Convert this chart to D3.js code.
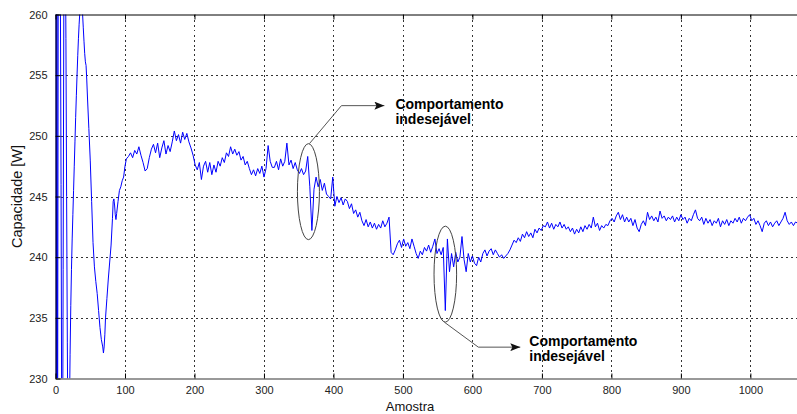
<!DOCTYPE html>
<html>
<head>
<meta charset="utf-8">
<script src="https://cdn.jsdelivr.net/npm/d3@7/dist/d3.min.js"></script>
<style>
  html, body { margin: 0; padding: 0; background: #fff; }
  svg { display: block; }
</style>
</head>
<body>
<svg id="chart" width="797" height="414"></svg>
<script>
// Startup transient: [amostra, capacidade]
const inicio = [
  [0,270],[1,218],[2,272],[3,222],[4,266],[5,274],[6,271],[7,262],[8,246],[9,224],
  [10,217],[11,239],[12,261],[13,274],[14,268],[15,258],[16,245],[17,233],[18,224],
  [19,222],[20,227],[21,232],[22,236],[23,239],[24,241.5],[25,243.5],[26,245.5],
  [27,247.5],[28,249.5],[29,251.5],[30,253.3],[31,255],[32,256.6],[33,258],[34,259.2],
  [35,260.2],[36,261],[37,261.4],[38,261.5],[39,260.0],[40,258.9],[41,257.8],[42,256.8],
  [43,256.1],[44,255.8],[45,254.6],[46,253.2],[48,250.6],[50,248],[52,244.6],[54,241.2],
  [56,239.2],[58,238],[60,237],[62,235.6],[64,234.2],[66,233.2],[68,232.6],[69,232.1],
  [70,232.6],[71,233.6],[72,235],[74,236.6],[76,238.2],[78,239.6],[80,241],[82,243.2],
  [83,244.6],[84,244.8],[85,244.3],[86,243.5],[87,243.1],[88,243.6],[90,244.6],
  [92,245.5],[94,245.8],[96,246.3],[98,246.6],[100,247.5],[102,248.1]
];

// Steady part, one reading every 3 samples starting at sample 105
const inicioRegime = 105;
const passo = 3;
const regime = [
  248.3, 248.6, 248.2, 248.8, 248.5, 249.1, 248.4, 247.8, 247.1, 247.3,
  248.2, 248.9, 249.3, 248.6, 249.4, 248.2, 249.0, 249.6, 248.5, 249.2,
  248.7, 249.5, 250.4, 249.6, 250.1, 249.4, 250.3, 249.7, 250.2, 249.5,
  249.0, 248.4, 247.6, 247.2, 247.8, 246.4, 247.5, 247.9, 247.0, 247.8,
  246.8, 247.6, 247.0, 247.9, 247.5, 248.2, 247.8, 248.6, 248.3, 249.1,
  248.5, 248.9, 248.4, 248.7, 248.0, 248.3, 247.6, 247.9, 247.3, 246.8,
  247.2, 246.7, 247.3, 246.9, 247.5, 246.6, 247.3, 249.2, 247.9, 247.4,
  247.4, 247.9, 247.2, 248.1, 247.5, 247.9, 249.4, 247.6, 248.0, 247.3,
  247.8, 247.2, 246.9, 247.3, 246.8, 247.1, 248.3, 245.8, 242.2, 245.6,
  246.6, 245.8, 246.4, 245.5, 246.1, 245.2, 245.0, 244.8, 246.6, 244.2,
  245.0, 244.5, 244.9, 244.3, 244.8, 244.6, 244.0, 244.4, 243.6, 243.9,
  243.3, 243.7, 243.0, 242.6, 243.1, 242.5, 242.9, 242.4, 242.8, 242.3,
  242.7, 242.4, 243.0, 242.5, 242.8, 243.3, 240.4, 240.2, 240.6, 241.1,
  241.4, 240.8, 241.5, 240.9, 241.2, 240.7, 241.5, 240.9, 240.3, 239.9,
  240.5, 240.2, 240.8, 240.5, 241.0, 240.4, 240.9, 241.5, 240.3, 240.7,
  240.2, 240.8, 235.6, 241.5, 238.8, 240.3, 239.2, 240.4, 239.6, 240.0,
  241.7, 239.8, 238.8, 240.3, 239.6, 240.1, 239.5, 239.3, 240.0, 239.6,
  240.3, 240.6, 240.1, 240.5, 240.7, 240.2, 240.6, 240.3, 240.0, 240.2,
  239.9, 240.1, 240.3, 240.6, 241.0, 241.4, 241.2, 241.6, 241.3, 241.9,
  241.6, 242.1, 241.7, 242.0, 241.6, 242.3, 242.0, 242.4, 242.2, 242.6,
  242.5, 242.9, 242.4, 242.8, 242.3, 242.7, 242.5, 242.9, 242.4, 242.7,
  242.3, 242.5, 242.1, 242.4, 241.9, 242.3, 242.0, 242.5, 242.1, 242.6,
  242.3, 242.7, 242.4, 243.3, 242.5, 242.8, 242.2, 242.6, 242.4, 242.7,
  242.6, 243.0, 243.2, 242.9, 243.4, 243.7, 243.1, 243.5, 242.9, 243.3,
  242.9, 243.2, 242.6, 243.1, 242.4, 242.1, 242.7, 243.0, 242.6, 243.7,
  243.1, 243.4, 243.0, 243.3, 242.9, 243.8, 243.2, 243.4, 243.0, 243.3,
  243.1, 243.4, 242.9, 243.3, 243.0, 243.5, 243.1, 243.3, 242.8, 243.2,
  243.0, 243.5, 243.9, 243.2, 243.0, 243.3, 242.7, 243.2, 242.8, 243.1,
  242.6, 243.0, 242.8, 243.2, 242.5, 243.0, 242.7, 243.1, 242.6, 243.0,
  242.8, 243.2, 242.9, 243.3, 242.8, 243.2, 243.0, 243.3, 243.5, 243.0,
  243.2, 242.7, 243.0, 242.6, 242.1, 242.8, 243.0, 242.6, 242.9, 242.5,
  242.8, 243.0, 242.6, 242.9, 243.2, 243.7, 243.0, 242.7, 242.9, 242.6,
  242.9, 242.8
];

const xTicks = [0, 100, 200, 300, 400, 500, 600, 700, 800, 900, 1000];
const yTicks = [230, 235, 240, 245, 250, 255, 260];

// Annotated events: [amostra, capacidade] at ellipse centre
const eventos = [
  { centro: [364, 245.4], texto: ["Comportamento", "indesejável"] },
  { centro: [561, 238.6], texto: ["Comportamento", "indesejável"] }
];

const serie = inicio.map(d => ({ x: d[0], y: d[1] }))
  .concat(regime.map((v, i) => ({ x: inicioRegime + i * passo, y: v })));

const svg = d3.select("#chart");
const mLeft = 55.5, mTop = 14.5, mRight = 799, mBottom = 378.5;

const x = d3.scaleLinear().domain([0, 1070]).range([mLeft, mRight]);
const y = d3.scaleLinear().domain([230, 260]).range([mBottom, mTop]);

const defs = svg.append("defs");
defs.append("clipPath").attr("id", "area")
  .append("rect").attr("x", mLeft).attr("y", mTop)
  .attr("width", mRight - mLeft).attr("height", mBottom - mTop);

// Dotted grid
const grid = svg.append("g").attr("stroke", "#333").attr("stroke-width", 1)
  .attr("stroke-dasharray", "2,3").attr("shape-rendering", "crispEdges");
grid.selectAll("line.v").data(xTicks.filter(t => t > 0)).join("line")
  .attr("class", "v")
  .attr("x1", d => Math.round(x(d)) + 0.5).attr("x2", d => Math.round(x(d)) + 0.5)
  .attr("y1", mTop).attr("y2", mBottom);
grid.selectAll("line.h").data(yTicks.filter(t => t > 230 && t < 260)).join("line")
  .attr("class", "h")
  .attr("y1", d => Math.round(y(d)) + 0.5).attr("y2", d => Math.round(y(d)) + 0.5)
  .attr("x1", mLeft).attr("x2", mRight);

// Signal
const linha = d3.line().x(d => x(d.x)).y(d => y(d.y));
svg.append("path").datum(serie)
  .attr("clip-path", "url(#area)")
  .attr("fill", "none").attr("stroke", "#0000ff").attr("stroke-width", 1)
  .attr("stroke-linejoin", "round")
  .attr("d", linha);

// Axes (ticks point inward, box on top)
const fonte = "'Liberation Sans', Arial, sans-serif";
const eixoX = svg.append("g").attr("transform", `translate(0,${mBottom})`)
  .call(d3.axisBottom(x).tickValues(xTicks).tickFormat(d3.format("d"))
    .tickSizeInner(-5).tickSizeOuter(0).tickPadding(8));
const eixoY = svg.append("g").attr("transform", `translate(${mLeft},0)`)
  .call(d3.axisLeft(y).tickValues(yTicks).tickFormat(d3.format("d"))
    .tickSizeInner(-5).tickSizeOuter(0).tickPadding(8));
const eixoTopo = svg.append("g").attr("transform", `translate(0,${mTop})`)
  .call(d3.axisTop(x).tickValues(xTicks).tickSizeInner(-5).tickSizeOuter(0).tickFormat(""));
[eixoX, eixoY, eixoTopo].forEach(g => {
  g.selectAll("path.domain").attr("stroke", "#000");
  g.selectAll(".tick line").attr("stroke", "#000");
  g.selectAll(".tick text").attr("fill", "#222")
    .style("font-family", fonte).style("font-size", "11px");
});
eixoX.select("path.domain").attr("stroke", "#777").attr("stroke-width", 1.5);

svg.append("text").attr("x", 410).attr("y", 411).attr("text-anchor", "middle")
  .style("font-family", fonte).style("font-size", "13px")
  .attr("fill", "#111").text("Amostra");
svg.append("text").attr("transform", `translate(22,${(mTop + mBottom) / 2}) rotate(-90)`)
  .attr("text-anchor", "middle")
  .style("font-family", fonte).style("font-size", "14.5px")
  .attr("fill", "#111").text("Capacidade [W]");

// Annotations
defs.append("marker").attr("id", "seta")
  .attr("viewBox", "0 0 10 8").attr("refX", 10).attr("refY", 4)
  .attr("markerWidth", 10).attr("markerHeight", 8).attr("markerUnits", "userSpaceOnUse")
  .attr("orient", "auto")
  .append("path").attr("d", "M0,0 L10,4 L0,8 L2,4 Z").attr("fill", "#111");

const ann = svg.append("g");

// first event: leader goes up-right from the ellipse top
{
  const [cx, cy] = [x(eventos[0].centro[0]), y(eventos[0].centro[1])];
  ann.append("ellipse").attr("cx", cx).attr("cy", cy).attr("rx", 11).attr("ry", 48)
    .attr("fill", "none").attr("stroke", "#444").attr("stroke-width", 1);
  ann.append("path")
    .attr("d", `M${cx + 1},${cy - 48} L${cx + 33},${cy - 86} L${cx + 76},${cy - 86}`)
    .attr("fill", "none").attr("stroke", "#555").attr("stroke-width", 1)
    .attr("marker-end", "url(#seta)");
  const t = ann.append("text").attr("x", cx + 87).attr("y", cy - 83)
    .style("font-family", fonte).style("font-size", "14px").style("font-weight", "bold")
    .attr("fill", "#000");
  eventos[0].texto.forEach((s, i) => t.append("tspan").attr("x", cx + 87).attr("dy", i ? 15 : 0).text(s));
}
// second event: leader goes down-right from the ellipse bottom
{
  const [cx, cy] = [x(eventos[1].centro[0]), y(eventos[1].centro[1])];
  ann.append("ellipse").attr("cx", cx).attr("cy", cy).attr("rx", 11.3).attr("ry", 48)
    .attr("fill", "none").attr("stroke", "#444").attr("stroke-width", 1);
  ann.append("path")
    .attr("d", `M${cx - 1},${cy + 48} L${cx + 33},${cy + 73} L${cx + 75},${cy + 73}`)
    .attr("fill", "none").attr("stroke", "#555").attr("stroke-width", 1)
    .attr("marker-end", "url(#seta)");
  const t = ann.append("text").attr("x", cx + 84).attr("y", cy + 72)
    .style("font-family", fonte).style("font-size", "14px").style("font-weight", "bold")
    .attr("fill", "#000");
  eventos[1].texto.forEach((s, i) => t.append("tspan").attr("x", cx + 84).attr("dy", i ? 15 : 0).text(s));
}
</script>
</body>
</html>
